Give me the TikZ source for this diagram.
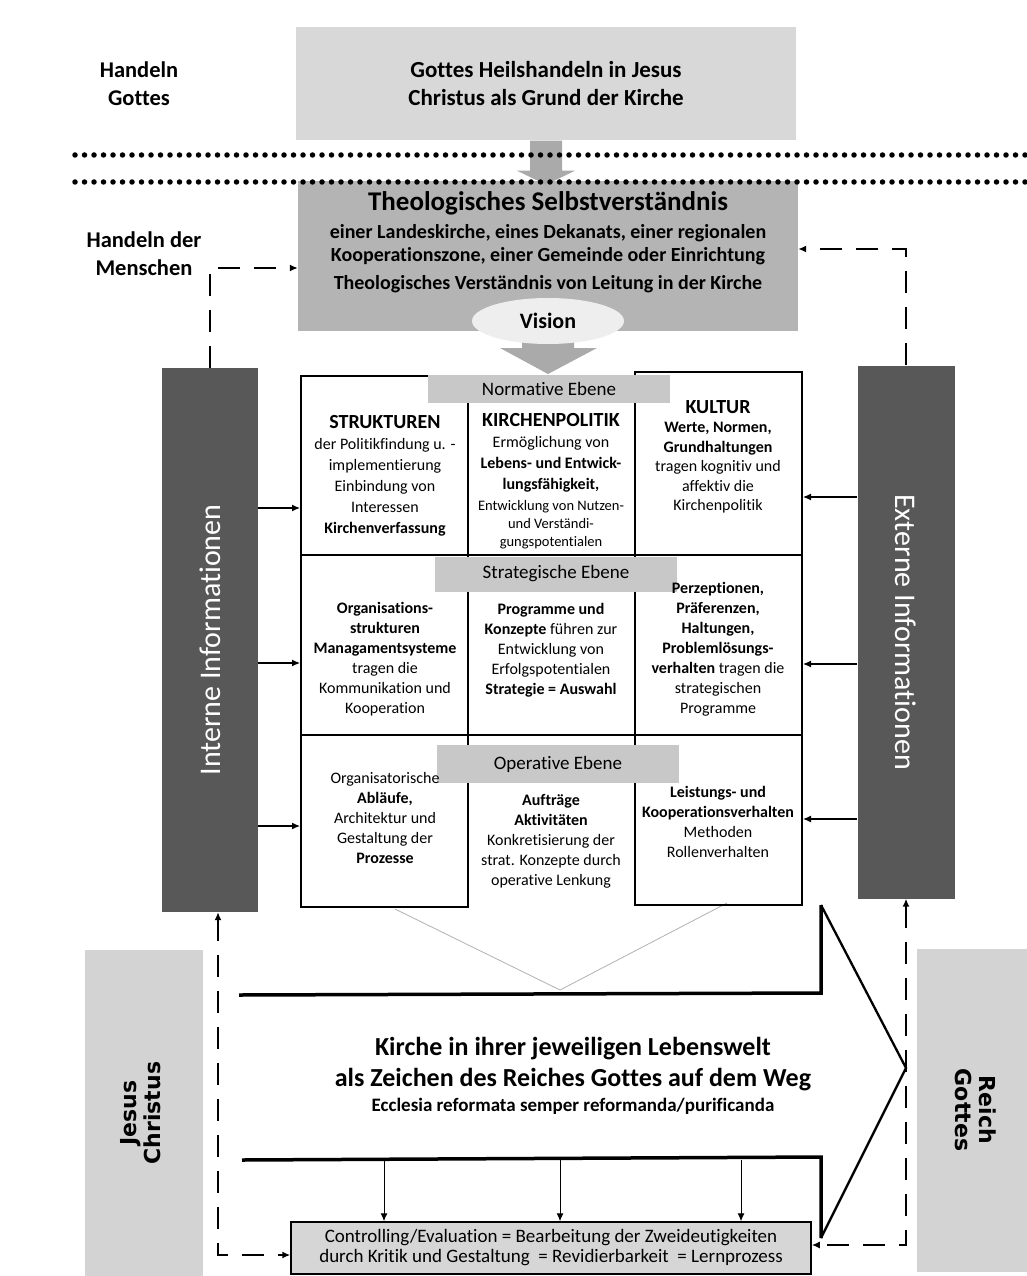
\documentclass[tikz,border=0pt]{standalone}
\usepackage{fontspec}
\setmainfont[Ligatures=NoCommon]{Carlito}
\newfontfamily\widefont{DejaVu Sans}
\usetikzlibrary{arrows.meta, positioning, shapes.geometric}

\definecolor{heilgray}{HTML}{D8D8D8}
\definecolor{selbstgray}{HTML}{B4B4B4}
\definecolor{visiongray}{HTML}{EEEEEE}
\definecolor{arrowgray}{HTML}{AAAAAA}
\definecolor{ebenegray}{HTML}{C8C8C8}
\definecolor{bargray}{HTML}{585858}
\definecolor{sidegray}{HTML}{D3D3D3}
\definecolor{ctrlgray}{HTML}{D6D6D6}

\newcommand{\fsz}[2]{\fontsize{#1}{#2}\selectfont}

\begin{document}
\begin{tikzpicture}[
    x=1pt, y=-1pt,
    graybox/.style={fill=heilgray, inner sep=0pt, align=center},
    ebene/.style={fill=ebenegray, minimum width=242pt, inner sep=0pt, font=\fsz{19}{22}},
    cell/.style={align=center, inner sep=0pt, font=\fsz{16}{20}},
    colbox/.style={draw, line width=2pt, inner sep=0pt},
    infobar/.style={fill=bargray, text=white, inner sep=0pt, font=\fsz{30}{34}},
    sidebar/.style={fill=sidegray, inner sep=0pt, font=\widefont\fsz{22}{24}\bfseries},
    link/.style={-{Latex[length=8pt, width=7pt]}, line width=1.2pt},
    dashlink/.style={link, line width=1.5pt, dash pattern=on 22pt off 14pt},
    gridline/.style={line width=2pt},
    dotrule/.style={line width=5.5pt, line cap=round, dash pattern=on 0pt off 9.5pt},
    shaft/.style={line width=3.5pt},
]
\useasboundingbox[fill=white] (0,0) rectangle (1026,1276);

% Seitenbalken
\node[sidebar, minimum width=118pt, minimum height=326pt] (jesus) at (144,1113)
    {\rotatebox{90}{\begin{tabular}{@{}c@{}}Jesus\\Christus\end{tabular}}};
\node[sidebar, minimum width=111pt, minimum height=323pt] (reich) at (972,1110)
    {\rotatebox{-90}{\begin{tabular}{@{}c@{}}Reich\\Gottes\end{tabular}}};

% Handeln Gottes
\node[font=\fsz{22.5}{28}\bfseries, align=center] (hgottes) at (139,84) {Handeln\\Gottes};
\node[graybox, minimum width=500pt, minimum height=113pt, font=\fsz{23}{28}\bfseries] (heil) at (546,84)
    {Gottes Heilshandeln in Jesus\\Christus als Grund der Kirche};

% Selbstverstaendnis
\node[graybox, fill=selbstgray, minimum width=500pt, minimum height=150pt] (selbst) at (548,256) {};
\node[font=\fsz{27}{30}\bfseries] (selbsttitle) at (548,203) {Theologisches Selbstverständnis};
\node[font=\fsz{20}{23}\bfseries, align=center] (einheiten) at (548,245)
    {einer Landeskirche, eines Dekanats, einer regionalen\\Kooperationszone, einer Gemeinde oder Einrichtung};
\node[font=\fsz{20}{23}\bfseries] (leitung) at (548,284) {Theologisches Verständnis von Leitung in der Kirche};

\fill[arrowgray] ([xshift=-16pt]heil.south) -- ++(0,30) -- ++(-13,0) -- ++(29,14) -- ++(29,-14) -- ++(-13,0) -- ++(0,-30) -- cycle;
\draw[dotrule] (75,155) -- (1026,155);
\draw[dotrule] (75,182) -- (1026,182);

\fill[arrowgray] (522,336) -- (522,348) -- (500,348) -- (548,374) -- (597,348) -- (574,348) -- (574,336) -- cycle;
\node[ellipse, fill=visiongray, minimum width=152pt, minimum height=46pt, inner sep=0pt, font=\fsz{22}{26}\bfseries] (vision) at (548,321) {Vision};

\node[font=\fsz{22.5}{28}\bfseries, align=center] (hmenschen) at (144,254) {Handeln der\\Menschen};

% Informationsbalken
\node[infobar, minimum width=96pt, minimum height=544pt] (intern) at (210,640) {\rotatebox{90}{Interne Informationen}};
\node[infobar, minimum width=97pt, minimum height=533pt] (extern) at (906,632) {\rotatebox{-90}{Externe Informationen}};

% grosser Pfeil
\draw[gray!60, line width=0.8pt] (395,909) -- (560,990) -- (727,903);
\draw[shaft] (239,995) -- (821,993) -- (821,905);
\draw[shaft] (242,1160) -- (821,1157) -- (821,1238);
\draw[line width=2.3pt, line join=miter] (821,905) -- (906,1068) -- (821,1238);
\node[font=\fsz{26}{31}\bfseries, align=center] (kirche) at (573,1064)
    {Kirche in ihrer jeweiligen Lebenswelt\\als Zeichen des Reiches Gottes auf dem Weg};
\node[font=\fsz{19}{22}\bfseries, below=0pt of kirche] (ecclesia) {Ecclesia reformata semper reformanda/purificanda};

% Raster
\node[colbox, minimum width=167pt, minimum height=531pt] (colL) at (384.5,641.5) {};
\node[colbox, minimum width=167pt, minimum height=533pt] (colR) at (718.5,638.5) {};
\draw[gridline] (301,555) -- (802,555);
\draw[gridline] (301,735) -- (802,735);

\node[ebene, minimum height=28pt] (normativ) at (549,389) {Normative Ebene};
\node[ebene, minimum height=35pt] (strategisch) at (556,574) {Strategische Ebene};
\node[ebene, minimum height=38pt] (operativ) at (558,764) {Operative Ebene};

\node[cell, font=\fsz{16}{21}] (strukturen) at (385,476)
    {{\fsz{20}{22}\bfseries STRUKTUREN}\\der Politikfindung u. -\\implementierung\\Einbindung von\\Interessen\\\textbf{Kirchenverfassung}};
\node[cell, font=\fsz{16}{21}] (politik) at (551,481)
    {{\fsz{20}{22}\bfseries KIRCHENPOLITIK}\\Ermöglichung von\\\textbf{Lebens- und Entwick-}\\\textbf{lungsfähigkeit,}\\{\fsz{14.5}{18}Entwicklung von Nutzen-}\\[-3pt]{\fsz{14.5}{18}und Verständi-}\\[-3pt]{\fsz{14.5}{18}gungspotentialen}};
\node[cell, font=\fsz{16}{19.5}] (kultur) at (718,457)
    {{\fsz{20}{22}\bfseries KULTUR}\\\textbf{Werte, Normen,}\\\textbf{Grundhaltungen}\\tragen kognitiv und\\affektiv die\\Kirchenpolitik};

\node[cell] (orgstruktur) at (385,659)
    {\textbf{Organisations-}\\\textbf{strukturen}\\\textbf{Managamentsysteme}\\tragen die\\Kommunikation und\\Kooperation};
\node[cell] (programme) at (551,650)
    {\textbf{Programme und}\\\textbf{Konzepte} führen zur\\Entwicklung von\\Erfolgspotentialen\\\textbf{Strategie = Auswahl}};
\node[cell] (perzeption) at (718,649)
    {\textbf{Perzeptionen,}\\\textbf{Präferenzen,}\\\textbf{Haltungen,}\\\textbf{Problemlösungs-}\\\textbf{verhalten} tragen die\\strategischen\\Programme};

\node[cell] (ablaeufe) at (385,818)
    {Organisatorische\\\textbf{Abläufe,}\\Architektur und\\Gestaltung der\\\textbf{Prozesse}};
\node[cell] (auftraege) at (551,841)
    {\textbf{Aufträge}\\\textbf{Aktivitäten}\\Konkretisierung der\\strat. Konzepte durch\\operative Lenkung};
\node[cell] (leistung) at (718,822)
    {\textbf{Leistungs- und}\\\textbf{Kooperationsverhalten}\\Methoden\\Rollenverhalten};

% Informationsfluss
\foreach \yy [count=\i] in {508,663,826} {
    \coordinate (inL\i) at (0,\yy);
    \draw[link] (intern.east |- inL\i) -- (colL.west |- inL\i);
}
\foreach \yy [count=\i] in {497,664,819} {
    \coordinate (exR\i) at (0,\yy);
    \draw[link] (extern.west |- exR\i) -- (colR.east |- exR\i);
}

% Controlling
\node[graybox, fill=ctrlgray, draw, line width=1.5pt, minimum width=520pt, minimum height=52pt, font=\fsz{19}{20}] (ctrl) at (551,1248)
    {Controlling/Evaluation = Bearbeitung der Zweideutigkeiten\\durch Kritik und Gestaltung \ = Revidierbarkeit \ = Lernprozess};
\foreach \xx [count=\i] in {384,560,741} {
    \coordinate (sh\i) at (\xx,1160);
    \draw[link, line width=1pt] (sh\i) -- (sh\i |- ctrl.north);
}

% Rueckkopplung
\draw[dashlink] (intern.north) |- ([yshift=-12pt]selbst.west);
\draw[dashlink] (extern.north) |- ([yshift=7pt]selbst.east);
\draw[dashlink, {Latex[length=8pt, width=7pt]}-{Latex[length=8pt, width=7pt]}] ([xshift=8pt]intern.south) |- ([yshift=-7pt]ctrl.west);
\draw[dashlink, {Latex[length=8pt, width=7pt]}-{Latex[length=8pt, width=7pt]}] (extern.south) |- ([yshift=3pt]ctrl.east);

\end{tikzpicture}
\end{document}
